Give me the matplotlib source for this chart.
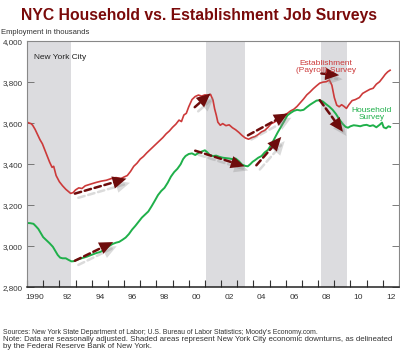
#!/usr/bin/env python3
'''NYC household vs establishment job surveys'''

import matplotlib
matplotlib.use("Agg")
import matplotlib.pyplot as plt
import matplotlib.patheffects as pe

plt.rcParams['font.family'] = ['Liberation Sans', 'DejaVu Sans']

# establishment (payroll) survey, thousands
est_t = [1990.0, 1990.15, 1990.25, 1990.35, 1990.5, 1990.65, 1990.8, 1990.95, 1991.1, 1991.25,
         1991.4, 1991.55, 1991.65, 1991.8, 1992.0, 1992.2, 1992.4, 1992.55, 1992.7, 1992.85,
         1993.0, 1993.2, 1993.4, 1993.6, 1993.8, 1994.0, 1994.3, 1994.6, 1994.9, 1995.2,
         1995.5, 1995.8, 1996.0, 1996.2, 1996.4, 1996.6, 1996.8, 1997.0, 1997.2, 1997.4,
         1997.6, 1997.8, 1998.0, 1998.2, 1998.4, 1998.6, 1998.8, 1999.0, 1999.2, 1999.4,
         1999.55, 1999.7, 1999.85, 2000.0, 2000.2, 2000.4, 2000.6, 2000.8, 2001.0, 2001.2,
         2001.35, 2001.5, 2001.6, 2001.7, 2001.8, 2001.95, 2002.1, 2002.3, 2002.5, 2002.7,
         2002.9, 2003.1, 2003.3, 2003.5, 2003.7, 2003.9, 2004.1, 2004.3, 2004.5, 2004.7,
         2004.9, 2005.1, 2005.3, 2005.5, 2005.7, 2005.9, 2006.1, 2006.3, 2006.5, 2006.7,
         2006.9, 2007.1, 2007.3, 2007.5, 2007.7, 2007.9, 2008.1, 2008.3, 2008.5, 2008.7,
         2008.85, 2009.0, 2009.15, 2009.3, 2009.45, 2009.6, 2009.75, 2009.9, 2010.1, 2010.3,
         2010.55, 2010.75, 2010.97, 2011.2, 2011.4, 2011.6, 2011.8, 2012.0, 2012.15, 2012.3,
         2012.45]
est_v = [3605, 3600, 3598, 3590, 3570, 3545, 3520, 3500, 3470, 3440,
         3410, 3385, 3390, 3345, 3315, 3295, 3278, 3268, 3258, 3262,
         3275, 3285, 3282, 3295, 3300, 3305, 3312, 3318, 3322, 3330,
         3335, 3330, 3338, 3345, 3365, 3390, 3405, 3425, 3438, 3455,
         3470, 3485, 3500, 3515, 3530, 3548, 3562, 3580, 3595, 3615,
         3608, 3640, 3648, 3680, 3715, 3730, 3737, 3732, 3738, 3735,
         3740, 3712, 3670, 3640, 3605, 3590, 3598, 3588, 3592, 3578,
         3568, 3555, 3540, 3528, 3522, 3530, 3535, 3545, 3558, 3565,
         3580, 3598, 3605, 3618, 3632, 3640, 3648, 3660, 3668, 3682,
         3700, 3718, 3738, 3752, 3768, 3782, 3795, 3800, 3802, 3810,
         3785, 3725, 3688, 3680, 3690, 3682, 3672, 3690, 3710, 3715,
         3725, 3745, 3755, 3765, 3770, 3790, 3802, 3822, 3838, 3850,
         3858]

# household survey, thousands
hh_t = [1990.0, 1990.2, 1990.4, 1990.55, 1990.7, 1990.85, 1991.0, 1991.2, 1991.4, 1991.6,
        1991.75, 1991.9, 1992.05, 1992.2, 1992.4, 1992.55, 1992.75, 1992.9, 1993.1, 1993.3,
        1993.5, 1993.7, 1993.9, 1994.1, 1994.3, 1994.5, 1994.7, 1994.9, 1995.1, 1995.3,
        1995.5, 1995.7, 1995.9, 1996.1, 1996.3, 1996.5, 1996.7, 1996.9, 1997.1, 1997.3,
        1997.5, 1997.7, 1997.9, 1998.1, 1998.3, 1998.5, 1998.7, 1998.9, 1999.1, 1999.3,
        1999.5, 1999.65, 1999.8, 2000.0, 2000.2, 2000.4, 2000.6, 2000.8, 2001.0, 2001.15,
        2001.3, 2001.5, 2001.7, 2001.9, 2002.1, 2002.3, 2002.5, 2002.7, 2002.9, 2003.1,
        2003.3, 2003.5, 2003.65, 2003.8, 2003.95, 2004.1, 2004.3, 2004.5, 2004.7, 2004.9,
        2005.1, 2005.3, 2005.5, 2005.7, 2005.9, 2006.1, 2006.3, 2006.5, 2006.7, 2006.9,
        2007.1, 2007.3, 2007.5, 2007.7, 2007.9, 2008.1, 2008.3, 2008.5, 2008.7, 2008.9,
        2009.1, 2009.3, 2009.5, 2009.7, 2009.85, 2010.0, 2010.2, 2010.4, 2010.6, 2010.8,
        2011.0, 2011.2, 2011.4, 2011.6, 2011.8, 2011.95, 2012.05, 2012.2, 2012.35, 2012.45]
hh_v = [3114, 3113, 3110, 3098, 3085, 3065, 3045, 3030, 3015, 2998,
        2978, 2958, 2945, 2942, 2942, 2935, 2927, 2928, 2935, 2940,
        2945, 2950, 2956, 2962, 2968, 2972, 2980, 2992, 3003, 3012,
        3018, 3022, 3032, 3043, 3060, 3082, 3100, 3120, 3140, 3155,
        3170, 3195, 3222, 3250, 3270, 3285, 3310, 3340, 3362, 3378,
        3400, 3425, 3440, 3450, 3453, 3445, 3455, 3462, 3468, 3458,
        3445, 3440, 3442, 3436, 3432, 3430, 3428, 3425, 3428, 3415,
        3398, 3392, 3390, 3400, 3412, 3420, 3432, 3440, 3458, 3470,
        3495, 3525, 3555, 3582, 3610, 3638, 3650, 3660, 3665, 3662,
        3665, 3678, 3690, 3700, 3710, 3712, 3705, 3692, 3680, 3665,
        3645, 3620, 3598, 3582, 3578, 3585, 3590, 3588, 3585, 3590,
        3592, 3586, 3590, 3580, 3592, 3603, 3580, 3575, 3585, 3582]

# NYC downturns (shaded)
recessions = [(1990.0, 1992.7), (2001.05, 2003.45), (2008.2, 2009.8)]

# arrows: (tail_x, tail_y, tip_x, tip_y)
arrows = [(1992.96, 3257, 1996.15, 3330),
          (1992.96, 2930, 1995.33, 3021),
          (2000.37, 3678, 2001.34, 3745),
          (2000.4, 3466, 2003.46, 3390),
          (2003.66, 3541, 2006.13, 3647),
          (2004.18, 3395, 2005.72, 3533),
          (2008.2, 3842, 2009.3, 3834),
          (2008.1, 3712, 2009.53, 3558)]

yticks = [2800, 3000, 3200, 3400, 3600, 3800, 4000]
xlabels = ['1990', '92', '94', '96', '98', '00', '02', '04', '06', '08', '10', '12']

RED = '#cc3a3a'
GREEN = '#1fb04a'
DARK = '#6e0c0c'

fig = plt.figure(figsize=(4, 3.54), dpi=100)
ax = fig.add_axes([0.0675, 0.188, 0.93, 0.696])

for a, b in recessions:
    ax.axvspan(a, b, color='#dcdcdf', lw=0, zorder=0)

ax.plot(est_t, est_v, color=RED, lw=1.2, zorder=2)
ax.plot(hh_t, hh_v, color=GREEN, lw=1.4, zorder=2)

line_shadow = [pe.SimpleLineShadow(offset=(2.5, -3), shadow_color='#888888', alpha=0.3),
               pe.Normal()]
head_shadow = [pe.SimplePatchShadow(offset=(2.5, -3), shadow_rgbFace='#888888', alpha=0.3),
               pe.Normal()]
for x0, y0, x1, y1 in arrows:
    # dashed shaft
    ax.annotate('', xy=(x1, y1), xytext=(x0, y0),
                arrowprops=dict(arrowstyle='-', color=DARK, lw=1.8, ls=(0, (2.6, 1.5)),
                                shrinkA=0, shrinkB=4, path_effects=line_shadow),
                zorder=3)
    # solid filled head
    ax.annotate('', xy=(x1, y1), xytext=(x0, y0),
                arrowprops=dict(arrowstyle='-|>,head_length=1.0,head_width=0.45',
                                color=DARK, lw=0, shrinkA=0, shrinkB=0,
                                path_effects=head_shadow),
                zorder=3)

ax.set_xlim(1990, 2013)
ax.set_ylim(2800, 4000)
ax.set_yticks(yticks)
ax.set_yticklabels(['{:,}'.format(v) for v in yticks])
ax.set_xticks(range(1990, 2014))
ax.set_xticklabels([])
ax.set_xticks([y + 0.5 for y in range(1990, 2013, 2)], minor=True)
ax.set_xticklabels(xlabels, minor=True)
ax.tick_params(axis='x', which='major', direction='in', length=5, width=0.8, color='#333333')
ax.tick_params(axis='x', which='minor', length=0, pad=5, labelsize=6, labelcolor='#333333')
ax.tick_params(axis='y', direction='in', length=5, width=0.6, color='#666666', right=True,
               labelsize=5.8, labelcolor='#333333', pad=3)
for s in ['left', 'top', 'right']:
    ax.spines[s].set_color('#888888')
    ax.spines[s].set_linewidth(0.8)
ax.spines['bottom'].set_color('#222222')
ax.spines['bottom'].set_linewidth(1.1)

ax.text(0.018, 0.935, 'New York City', transform=ax.transAxes, fontsize=6, color='#222222',
        va='center')
ax.text(2008.5, 3872, 'Establishment\n(Payroll) Survey', color=RED, fontsize=6,
        ha='center', va='center', linespacing=1.0)
ax.text(2011.3, 3643, 'Household\nSurvey', color=GREEN, fontsize=6,
        ha='center', va='center', linespacing=1.0)

fig.text(0.4975, 0.955, 'NYC Household vs. Establishment Job Surveys', ha='center',
         va='center', fontsize=11.3, fontweight='bold', color='#7a0a0a')
fig.text(0.003, 0.907, 'Employment in thousands', fontsize=5.5, color='#333333', va='center')
fig.text(0.0075, 0.062, "Sources: New York State Department of Labor; U.S. Bureau of Labor "
         "Statistics; Moody's Economy.com.", fontsize=4.95, color='#333333', va='center')
fig.text(0.0075, 0.031, "Note: Data are seasonally adjusted. Shaded areas represent New York "
         "City economic downturns, as delineated\nby the Federal Reserve Bank of New York.",
         fontsize=5.65, color='#333333', va='center', linespacing=1.0)

fig.savefig('out.png', dpi=100)
